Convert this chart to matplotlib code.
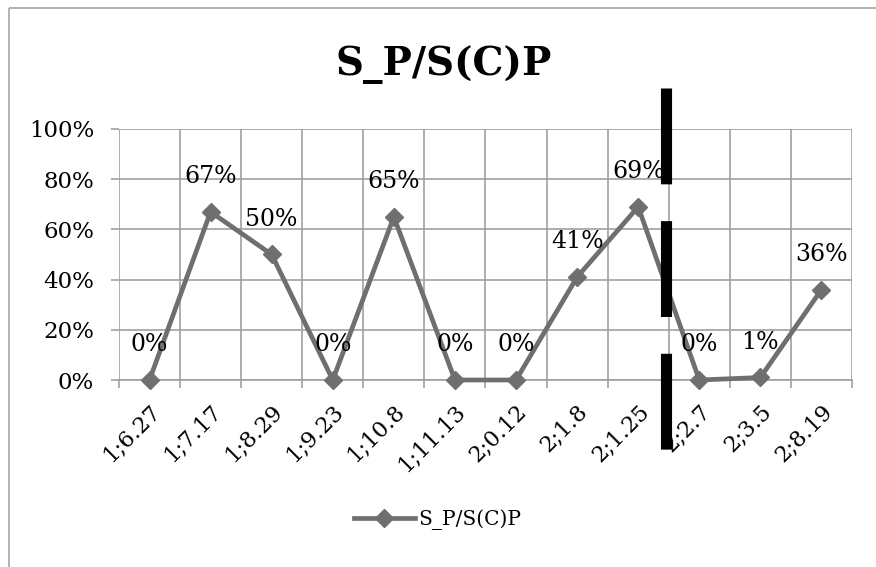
import matplotlib.pyplot as plt
from matplotlib.lines import Line2D
from matplotlib.ticker import FixedLocator
import matplotlib.transforms as mtransforms

# data
categories = ['1;6.27', '1;7.17', '1;8.29', '1;9.23', '1;10.8', '1;11.13',
              '2;0.12', '2;1.8', '2;1.25', '2;2.7', '2;3.5', '2;8.19']
values = [0, 67, 50, 0, 65, 0, 0, 41, 69, 0, 1, 36]
yticks = [0, 20, 40, 60, 80, 100]
series_name = 'S_P/S(C)P'
break_pos = 8.45  # black dashed marker between 2;1.25 and 2;2.7

plt.rcParams['font.family'] = 'DejaVu Serif'
plt.rcParams['lines.scale_dashes'] = False

fig = plt.figure(figsize=(8.76, 5.67), dpi=100)
ax = fig.add_axes([0.1358, 0.3298, 0.8368, 0.4427])

# outer chart frame (only left and top edges are visible)
fx, fy = 8.5 / 876, 1 - 7.5 / 567
frame_c = '#a6a6a6'
fig.lines.append(Line2D([fx, fx], [-0.05, fy], transform=fig.transFigure,
                        color=frame_c, lw=1.2, solid_capstyle='butt'))
fig.lines.append(Line2D([fx, 1.05], [fy, fy], transform=fig.transFigure,
                        color=frame_c, lw=1.2, solid_capstyle='butt'))

x = list(range(len(categories)))
line_color = '#6f6f6f'
ax.plot(x, values, color=line_color, lw=3.4, marker='D', markersize=9,
        markerfacecolor=line_color, markeredgecolor=line_color,
        label=series_name, zorder=4, clip_on=False)

for xi, v in zip(x, values):
    ax.annotate(f'{v}%', (xi, v), xytext=(0, 17), textcoords='offset points',
                ha='center', va='bottom', fontsize=17, color='black', zorder=5)

ax.set_xlim(-0.5, len(categories) - 0.5)
ax.set_ylim(0, 100)

grid_c = '#a0a0a0'
ax.yaxis.set_major_locator(FixedLocator(yticks))
ax.set_yticklabels([f'{t}%' for t in yticks], fontsize=16.5)
ax.xaxis.set_major_locator(FixedLocator([i - 0.5 for i in range(len(categories) + 1)]))
ax.set_xticklabels([''] * (len(categories) + 1))
ax.xaxis.set_minor_locator(FixedLocator(x))
ax.set_xticklabels(categories, minor=True, rotation=45, ha='right',
                   rotation_mode='anchor', fontsize=16)
ax.tick_params(axis='x', which='minor', length=0, pad=15)
ax.tick_params(axis='both', which='major', length=6, width=1.2, color=grid_c)
ax.tick_params(axis='y', which='major', pad=12)
ax.grid(True, which='major', color=grid_c, lw=1.2)
ax.set_axisbelow(True)
for s in ax.spines.values():
    s.set_visible(False)
ax.spines['bottom'].set_visible(True)
ax.spines['bottom'].set_color(grid_c)
ax.spines['bottom'].set_linewidth(1.2)

# black dashed break line
trans = mtransforms.blended_transform_factory(ax.transData, ax.transAxes)
ax.plot([break_pos, break_pos], [(380 - 88) / 251, (380 - 450) / 251],
        transform=trans, color='black', lw=8, solid_capstyle='butt',
        dash_capstyle='butt', linestyle=(0, (69, 26.5)), clip_on=False, zorder=6)

fig.text(0.506, 0.887, series_name, ha='center', va='center',
         fontsize=28, fontweight='bold')

leg = fig.legend(loc='center', bbox_to_anchor=(0.5, 0.083), frameon=False,
                 fontsize=14.5, handlelength=3.0, handletextpad=0.2)

fig.savefig('out.png', dpi=100)
